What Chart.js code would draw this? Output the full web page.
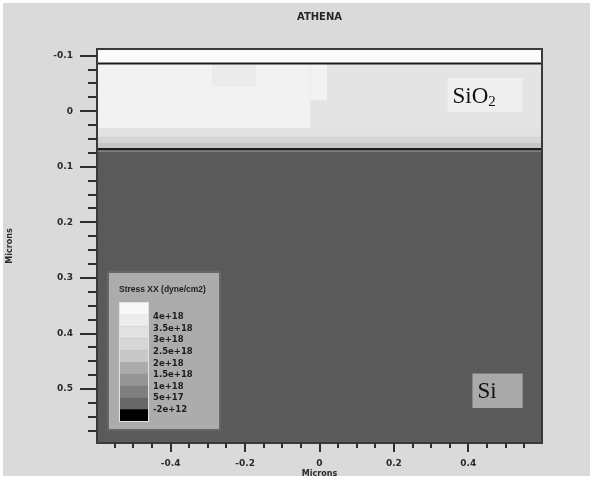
<!DOCTYPE html>
<html>
<head>
<meta charset="utf-8">
<script src="https://cdn.jsdelivr.net/npm/chart.js@4.4.0/dist/chart.umd.min.js"></script>
<style>
  html, body { margin: 0; padding: 0; background: #fff; }
</style>
</head>
<body>
<canvas id="stressChart" width="593" height="479"></canvas>
<script>
const xRange = [-0.598, 0.598];
const yRange = [-0.112, 0.597];
const xTickLabels = ["-0.4", "-0.2", "0", "0.2", "0.4"];
const yTickLabels = ["-0.1", "0", "0.1", "0.2", "0.3", "0.4", "0.5"];

// structure layers, depth in microns (down is positive)
const layerNames  = ["cap", "oxide", "oxide left", "oxide top", "oxide patch", "grade 1", "grade 2", "grade 3", "interface", "Si"];
const layerTop    = [-0.112, -0.086, -0.086, -0.086, -0.086, 0.031, 0.046, 0.057, 0.068, 0.073];
const layerBottom = [-0.086, 0.031, 0.031, -0.020, -0.045, 0.046, 0.057, 0.068, 0.073, 0.597];
const layerFrom   = [-0.598, -0.598, -0.598, -0.025, -0.290, -0.598, -0.598, -0.598, -0.598, -0.598];
const layerTo     = [0.598, 0.598, -0.025, 0.020, -0.170, 0.598, 0.598, 0.598, 0.598, 0.598];
const layerGreys  = ["#fbfbfb", "#e4e4e4", "#f2f2f2", "#f2f2f2", "#ebebeb", "#e2e2e2", "#d6d6d6", "#c6c6c6", "#6e6e6e", "#5a5a5a"];

const boundaryDepths = [-0.086, 0.068];

const legendTitle = "Stress XX (dyne/cm2)";
const legendLevels = ["4e+18", "3.5e+18", "3e+18", "2.5e+18", "2e+18", "1.5e+18", "1e+18", "5e+17", "-2e+12"];
const legendGreys = ["#f8f8f8", "#ececec", "#e1e1e1", "#d6d6d6", "#c8c8c8", "#ababab", "#959595", "#7f7f7f", "#686868", "#000000"];

const fmt = v => String(Math.round(v * 1000) / 1000);
const axisFont = { family: "DejaVu Sans", size: 9, weight: "bold" };

function stepTicks(scale, step) {
  const list = [];
  const lo = Math.ceil(scale.min / step - 1e-9);
  const hi = Math.floor(scale.max / step + 1e-9);
  for (let k = lo; k <= hi; k++) list.push({ value: Math.round(k * step * 1000) / 1000 });
  scale.ticks = list;
}

const layerSets = layerNames.map((name, i) => ({
  label: name,
  data: [{ x: layerFrom[i], y: layerBottom[i] }, { x: layerTo[i], y: layerBottom[i] }],
  fill: { value: layerTop[i] },
  backgroundColor: layerGreys[i],
  borderWidth: 0,
  pointRadius: 0,
  order: 100 - i
}));

const lineSets = boundaryDepths.map(d => ({
  label: "boundary " + d,
  data: [{ x: xRange[0], y: d }, { x: xRange[1], y: d }],
  fill: false,
  borderColor: "#1c1c1c",
  borderWidth: 2,
  pointRadius: 0,
  order: 0
}));

const backdrop = {
  id: "backdrop",
  beforeDraw(chart) {
    const { ctx, width, height } = chart;
    ctx.save();
    ctx.fillStyle = "#ffffff";
    ctx.fillRect(0, 0, width, height);
    ctx.fillStyle = "#dadada";
    ctx.fillRect(3, 3, width - 6, height - 6);
    ctx.restore();
  }
};

const frameAndTicks = {
  id: "frameAndTicks",
  afterDatasetsDraw(chart) {
    const { ctx, chartArea: a, scales } = chart;
    ctx.save();

    // material labels
    const x = scales.x, y = scales.y;
    let bx = x.getPixelForValue(0.344), by = y.getPixelForValue(-0.06);
    ctx.fillStyle = "#efefef";
    ctx.fillRect(bx, by, x.getPixelForValue(0.546) - bx, y.getPixelForValue(0.001) - by);
    ctx.fillStyle = "#111";
    ctx.textBaseline = "alphabetic";
    ctx.font = "23px 'Liberation Serif'";
    ctx.fillText("SiO", bx + 5, by + 25);
    const w = ctx.measureText("SiO").width;
    ctx.font = "15px 'Liberation Serif'";
    ctx.fillText("2", bx + 5 + w, by + 28);

    bx = x.getPixelForValue(0.411); by = y.getPixelForValue(0.472);
    ctx.fillStyle = "#a9a9a9";
    ctx.fillRect(bx, by, x.getPixelForValue(0.546) - bx, y.getPixelForValue(0.534) - by);
    ctx.fillStyle = "#111";
    ctx.font = "23px 'Liberation Serif'";
    ctx.fillText("Si", bx + 5, by + 24);

    // legend box
    const lx = 108, ly = 272;
    ctx.fillStyle = "#acacac";
    ctx.fillRect(lx, ly, 112, 158);
    ctx.strokeStyle = "#666666";
    ctx.lineWidth = 2;
    ctx.strokeRect(lx, ly, 112, 158);
    ctx.fillStyle = "#1e1e1e";
    ctx.font = "bold 8.5px 'Liberation Sans'";
    ctx.textBaseline = "middle";
    ctx.fillText(legendTitle, lx + 11, ly + 18);
    const sh = 11.8;
    legendGreys.forEach((c, i) => {
      ctx.fillStyle = c;
      ctx.fillRect(lx + 12, ly + 31 + i * sh, 28, sh);
    });
    ctx.strokeStyle = "#e2e2e2";
    ctx.lineWidth = 1;
    ctx.strokeRect(lx + 11.5, ly + 30.5, 29, sh * legendGreys.length + 1);
    ctx.fillStyle = "#1e1e1e";
    ctx.font = "bold 8.5px 'DejaVu Sans'";
    legendLevels.forEach((t, i) => {
      ctx.fillText(t, lx + 45, ly + 45 + i * 11.6);
    });

    // frame
    ctx.strokeStyle = "#3a3a3a";
    ctx.lineWidth = 2;
    ctx.strokeRect(a.left, a.top, a.right - a.left, a.bottom - a.top);

    // tick marks outside the frame
    ctx.strokeStyle = "#2e2e2e";
    ctx.lineWidth = 2;
    x.ticks.forEach(t => {
      const px = Math.round(x.getPixelForValue(t.value));
      const len = xTickLabels.includes(fmt(t.value)) ? 9 : 5;
      ctx.beginPath();
      ctx.moveTo(px, a.bottom);
      ctx.lineTo(px, a.bottom + len);
      ctx.stroke();
    });
    y.ticks.forEach(t => {
      const py = Math.round(y.getPixelForValue(t.value));
      const len = yTickLabels.includes(fmt(t.value)) ? 17 : 9;
      ctx.beginPath();
      ctx.moveTo(a.left, py);
      ctx.lineTo(a.left - len, py);
      ctx.stroke();
    });
    ctx.restore();
  }
};

new Chart(document.getElementById("stressChart"), {
  type: "line",
  data: { datasets: [...layerSets, ...lineSets] },
  plugins: [backdrop, frameAndTicks],
  options: {
    responsive: false,
    animation: false,
    layout: { padding: { left: 3, right: 51, top: 3, bottom: 0 } },
    plugins: {
      legend: { display: false },
      tooltip: { enabled: false },
      title: {
        display: true,
        text: "ATHENA",
        fullSize: false,
        color: "#262626",
        font: { family: "DejaVu Sans", size: 10, weight: "bold" },
        padding: { top: 8, bottom: 26 }
      }
    },
    scales: {
      x: {
        type: "linear",
        min: xRange[0],
        max: xRange[1],
        afterBuildTicks: s => stepTicks(s, 0.05),
        afterFit: s => { s.height = 36; },
        grid: { display: false, drawTicks: false },
        border: { display: false },
        ticks: {
          autoSkip: false,
          maxRotation: 0,
          padding: 15,
          color: "#2b2b2b",
          font: axisFont,
          callback: v => (xTickLabels.includes(fmt(v)) ? fmt(v) : "")
        },
        title: {
          display: true,
          text: "Microns",
          color: "#2b2b2b",
          font: { family: "DejaVu Sans", size: 8, weight: "bold" },
          padding: { top: 0, bottom: 0 }
        }
      },
      y: {
        type: "linear",
        reverse: true,
        min: yRange[0],
        max: yRange[1],
        afterBuildTicks: s => stepTicks(s, 0.025),
        afterFit: s => { s.width = 94; },
        grid: { display: false, drawTicks: false },
        border: { display: false },
        ticks: {
          autoSkip: false,
          padding: 24,
          color: "#2b2b2b",
          font: axisFont,
          callback: v => (yTickLabels.includes(fmt(v)) ? fmt(v) : "")
        },
        title: {
          display: true,
          text: "Microns",
          color: "#2b2b2b",
          font: { family: "DejaVu Sans", size: 8, weight: "bold" },
          padding: { top: 2, bottom: 0 }
        }
      }
    }
  }
});
</script>
</body>
</html>
